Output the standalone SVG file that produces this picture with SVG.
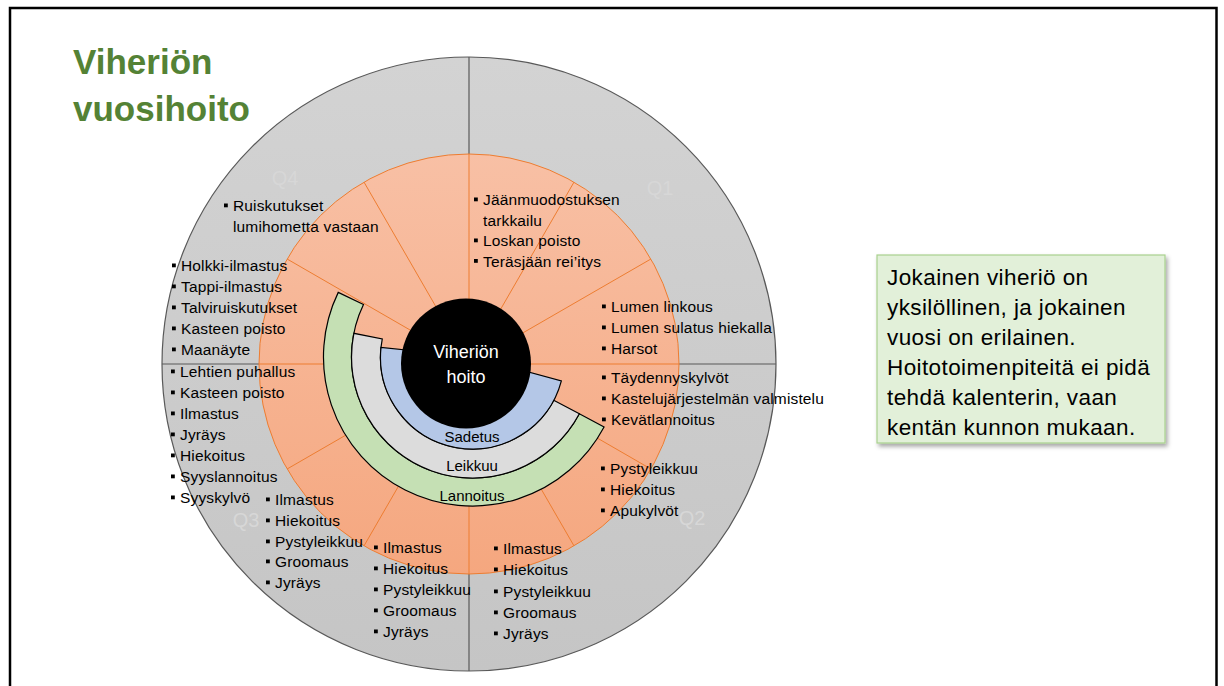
<svg xmlns="http://www.w3.org/2000/svg" width="1224" height="686" viewBox="0 0 1224 686">
  <defs>
    <linearGradient id="grayFill" x1="0" y1="0" x2="0" y2="1">
      <stop offset="0" stop-color="#D3D3D3"/>
      <stop offset="1" stop-color="#C5C5C5"/>
    </linearGradient>
    <linearGradient id="orangeFill" x1="0" y1="0" x2="0" y2="1">
      <stop offset="0" stop-color="#F8C0A5"/>
      <stop offset="1" stop-color="#F5A77F"/>
    </linearGradient>
    <filter id="boxShadow" x="-10%" y="-10%" width="125%" height="130%">
      <feDropShadow dx="2" dy="3" stdDeviation="2" flood-color="#000" flood-opacity="0.35"/>
    </filter>
    <rect id="bullet" width="3.8" height="3.8" fill="#000"/>
  </defs>
  <style>
    .title { font-family: "Liberation Sans", Arial, sans-serif; font-weight: bold; font-size: 35px; fill: #548235; }
    .item { font-family: "Liberation Sans", Arial, sans-serif; font-size: 15.5px; fill: #000; letter-spacing: 0.15px; }
    .ring { font-family: "Liberation Sans", Arial, sans-serif; font-size: 15px; fill: #000; text-anchor: middle; }
    .hub { font-family: "Liberation Sans", Arial, sans-serif; font-size: 18px; fill: #fff; text-anchor: middle; }
    .quarter { font-family: "Liberation Sans", Arial, sans-serif; font-size: 20px; fill: #D7D7D7; text-anchor: middle; }
    .note { font-family: "Liberation Sans", Arial, sans-serif; font-size: 22.5px; fill: #000; letter-spacing: 0.4px; }
    .month { stroke: #ED7D31; stroke-width: 1; }
    .arc { stroke: #000; stroke-width: 1.2; stroke-linejoin: miter; }
  </style>

  <!-- page frame -->
  <rect x="10" y="8" width="1206.5" height="700" fill="#fff" stroke="#000" stroke-width="2.5"/>

  <!-- title -->
  <g id="title">
    <text class="title" x="73" y="74">Viheriön</text>
    <text class="title" x="73" y="121">vuosihoito</text>
  </g>

  <!-- outer year wheel: quarters -->
  <g id="quarters">
    <circle cx="469" cy="364" r="307" fill="url(#grayFill)" stroke="#595959" stroke-width="1.2"/>
    <line x1="162" y1="364" x2="776" y2="364" stroke="#595959" stroke-width="1.2"/>
    <line x1="469" y1="57" x2="469" y2="671" stroke="#595959" stroke-width="1.2"/>
    <text class="quarter" x="660" y="195">Q1</text>
    <text class="quarter" x="692" y="525">Q2</text>
    <text class="quarter" x="246" y="527">Q3</text>
    <text class="quarter" x="285" y="185">Q4</text>
  </g>

  <!-- month wheel: twelve 30° sectors -->
  <g id="months">
    <circle cx="469" cy="364" r="210" fill="url(#orangeFill)" stroke="#ED7D31" stroke-width="1"/>
    <g class="month">
      <line x1="469" y1="364" x2="469" y2="154"/>
      <line x1="469" y1="364" x2="574" y2="182.1"/>
      <line x1="469" y1="364" x2="650.9" y2="259"/>
      <line x1="469" y1="364" x2="679" y2="364"/>
      <line x1="469" y1="364" x2="650.9" y2="469"/>
      <line x1="469" y1="364" x2="574" y2="545.9"/>
      <line x1="469" y1="364" x2="469" y2="574"/>
      <line x1="469" y1="364" x2="364" y2="545.9"/>
      <line x1="469" y1="364" x2="287.1" y2="469"/>
      <line x1="469" y1="364" x2="259" y2="364"/>
      <line x1="469" y1="364" x2="287.1" y2="259"/>
      <line x1="469" y1="364" x2="364" y2="182.1"/>
    </g>
  </g>

  <!-- task rings, centred on (472.5, 357) -->
  <g id="lannoitus">
    <path class="arc" fill="#C5E0B4" d="M604.06,426.95 A149,149 0 0 1 338.24,292.38 L363.47,304.53 A121,121 0 0 0 579.34,413.81 Z"/>
    <text class="ring" x="472" y="501">Lannoitus</text>
  </g>
  <g id="leikkuu">
    <path class="arc" fill="#DCDCDC" d="M579.34,413.81 A121,121 0 0 1 353.85,333.29 L382.28,338.97 A92,92 0 0 0 553.73,400.19 Z"/>
    <text class="ring" x="472" y="471">Leikkuu</text>
  </g>
  <g id="sadetus">
    <path class="arc" fill="#B4C7E7" d="M561.37,380.81 A92,92 0 0 1 381.00,347.38 L417.80,351.25 A55,55 0 0 0 525.63,371.24 Z"/>
    <text class="ring" x="472" y="442">Sadetus</text>
  </g>

  <!-- hub -->
  <g id="hub">
    <circle cx="466" cy="363.5" r="65" fill="#000"/>
    <text class="hub" x="466" y="358">Viheriön</text>
    <text class="hub" x="466" y="383">hoito</text>
  </g>

  <!-- monthly tasks -->
  <g id="tasks-dec">
    <use href="#bullet" x="224" y="203.5"/>
    <text class="item" x="233" y="211">Ruiskutukset</text>
    <text class="item" x="233" y="232">lumihometta vastaan</text>
  </g>
  <g id="tasks-jan">
    <use href="#bullet" x="474" y="197.5"/>
    <text class="item" x="483" y="205">Jäänmuodostuksen</text>
    <text class="item" x="483" y="225.5">tarkkailu</text>
    <use href="#bullet" x="474" y="238.5"/>
    <text class="item" x="483" y="246">Loskan poisto</text>
    <use href="#bullet" x="474" y="259"/>
    <text class="item" x="483" y="266.5">Teräsjään rei’itys</text>
  </g>
  <g id="tasks-feb">
    <use href="#bullet" x="602" y="304.5"/>
    <text class="item" x="611" y="312">Lumen linkous</text>
    <use href="#bullet" x="602" y="325.5"/>
    <text class="item" x="611" y="333">Lumen sulatus hiekalla</text>
    <use href="#bullet" x="602" y="346.5"/>
    <text class="item" x="611" y="354">Harsot</text>
  </g>
  <g id="tasks-apr">
    <use href="#bullet" x="602" y="375.5"/>
    <text class="item" x="611" y="383">Täydennyskylvöt</text>
    <use href="#bullet" x="602" y="396.5"/>
    <text class="item" x="611" y="404">Kastelujärjestelmän valmistelu</text>
    <use href="#bullet" x="602" y="417.5"/>
    <text class="item" x="611" y="425">Kevätlannoitus</text>
  </g>
  <g id="tasks-may">
    <use href="#bullet" x="601" y="466.5"/>
    <text class="item" x="610" y="474">Pystyleikkuu</text>
    <use href="#bullet" x="601" y="487.5"/>
    <text class="item" x="610" y="495">Hiekoitus</text>
    <use href="#bullet" x="601" y="508.5"/>
    <text class="item" x="610" y="516">Apukylvöt</text>
  </g>
  <g id="tasks-jun">
    <use href="#bullet" x="494" y="546.5"/>
    <text class="item" x="503" y="554">Ilmastus</text>
    <use href="#bullet" x="494" y="567.5"/>
    <text class="item" x="503" y="575">Hiekoitus</text>
    <use href="#bullet" x="494" y="589.5"/>
    <text class="item" x="503" y="597">Pystyleikkuu</text>
    <use href="#bullet" x="494" y="610.5"/>
    <text class="item" x="503" y="618">Groomaus</text>
    <use href="#bullet" x="494" y="631.5"/>
    <text class="item" x="503" y="639">Jyräys</text>
  </g>
  <g id="tasks-jul">
    <use href="#bullet" x="374" y="545.5"/>
    <text class="item" x="383" y="553">Ilmastus</text>
    <use href="#bullet" x="374" y="566.5"/>
    <text class="item" x="383" y="574">Hiekoitus</text>
    <use href="#bullet" x="374" y="587.5"/>
    <text class="item" x="383" y="595">Pystyleikkuu</text>
    <use href="#bullet" x="374" y="608.5"/>
    <text class="item" x="383" y="616">Groomaus</text>
    <use href="#bullet" x="374" y="629.5"/>
    <text class="item" x="383" y="637">Jyräys</text>
  </g>
  <g id="tasks-aug">
    <use href="#bullet" x="266" y="497.5"/>
    <text class="item" x="275" y="505">Ilmastus</text>
    <use href="#bullet" x="266" y="518.5"/>
    <text class="item" x="275" y="526">Hiekoitus</text>
    <use href="#bullet" x="266" y="539.5"/>
    <text class="item" x="275" y="547">Pystyleikkuu</text>
    <use href="#bullet" x="266" y="559.5"/>
    <text class="item" x="275" y="567">Groomaus</text>
    <use href="#bullet" x="266" y="580.5"/>
    <text class="item" x="275" y="588">Jyräys</text>
  </g>
  <g id="tasks-sep">
    <use href="#bullet" x="171" y="369.5"/>
    <text class="item" x="180" y="377">Lehtien puhallus</text>
    <use href="#bullet" x="171" y="390.5"/>
    <text class="item" x="180" y="398">Kasteen poisto</text>
    <use href="#bullet" x="171" y="411.5"/>
    <text class="item" x="180" y="419">Ilmastus</text>
    <use href="#bullet" x="171" y="432.5"/>
    <text class="item" x="180" y="440">Jyräys</text>
    <use href="#bullet" x="171" y="453.5"/>
    <text class="item" x="180" y="461">Hiekoitus</text>
    <use href="#bullet" x="171" y="474.5"/>
    <text class="item" x="180" y="482">Syyslannoitus</text>
    <use href="#bullet" x="171" y="495.5"/>
    <text class="item" x="180" y="503">Syyskylvö</text>
  </g>
  <g id="tasks-nov">
    <use href="#bullet" x="172" y="263.5"/>
    <text class="item" x="181" y="271">Holkki-ilmastus</text>
    <use href="#bullet" x="172" y="284.5"/>
    <text class="item" x="181" y="292">Tappi-ilmastus</text>
    <use href="#bullet" x="172" y="305.5"/>
    <text class="item" x="181" y="313">Talviruiskutukset</text>
    <use href="#bullet" x="172" y="326.5"/>
    <text class="item" x="181" y="334">Kasteen poisto</text>
    <use href="#bullet" x="172" y="347.5"/>
    <text class="item" x="181" y="355">Maanäyte</text>
  </g>

  <!-- side note -->
  <g id="note">
    <rect x="877" y="255" width="288" height="188" fill="#E2F0D9" stroke="#A9D18E" stroke-width="1.2" filter="url(#boxShadow)"/>
    <text class="note" x="887" y="285">Jokainen viheriö on</text>
    <text class="note" x="887" y="315">yksilöllinen, ja jokainen</text>
    <text class="note" x="887" y="345">vuosi on erilainen.</text>
    <text class="note" x="887" y="375">Hoitotoimenpiteitä ei pidä</text>
    <text class="note" x="887" y="405">tehdä kalenterin, vaan</text>
    <text class="note" x="887" y="435">kentän kunnon mukaan.</text>
  </g>
</svg>
